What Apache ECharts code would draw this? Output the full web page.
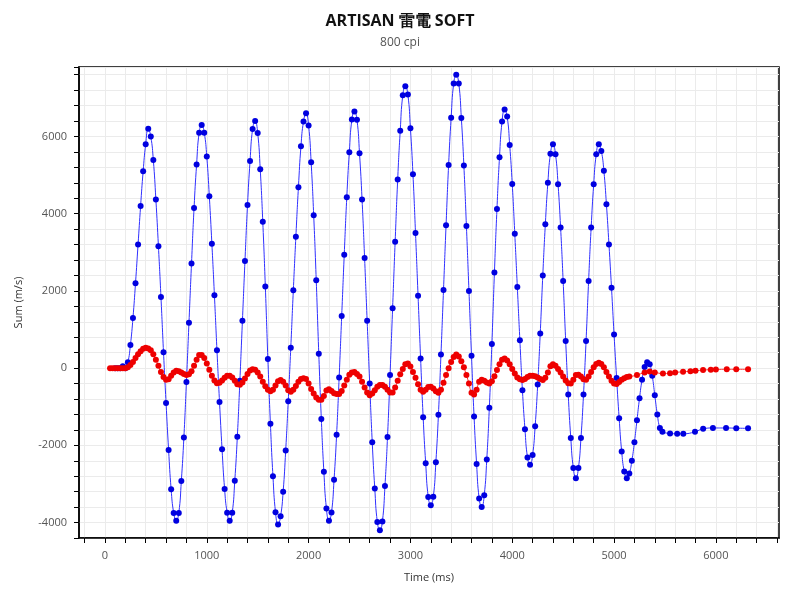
<!DOCTYPE html>
<html><head><meta charset="utf-8">
<script src="https://cdn.jsdelivr.net/npm/echarts@6/dist/echarts.min.js"></script>
<style>html,body{margin:0;padding:0;background:#fff}#c{width:800px;height:600px}</style>
</head><body><div id="c"></div>
<script>
const titleText = 'ARTISAN 雷電 SOFT';
const subText = '800 cpi';
const xName = 'Time (ms)';
const yName = 'Sum (m/s)';
const xTickValues = [-200,0,200,400,600,800,1000,1200,1400,1600,1800,2000,2200,2400,2600,2800,3000,3200,3400,3600,3800,4000,4200,4400,4600,4800,5000,5200,5400,5600,5800,6000,6200,6400,6600];
const xLabelValues = [0,1000,2000,3000,4000,5000,6000];

const blue = [[100,0],[125,0],[150,0],[175,50],[200,0],[225,150],[250,600],[275,1300],[300,2200],[325,3200],[350,4200],[375,5100],[400,5800],[425,6200],
[450,6000],[475,5390],[500,4370],[525,3160],[550,1840],[575,410],[600,-900],[625,-2120],[650,-3140],[675,-3750],[700,-3950],
[725,-3750],[750,-2925],[775,-1800],[800,-360],[825,1175],[850,2710],[875,4150],[900,5275],[925,6100],[950,6300],
[975,6100],[1000,5480],[1025,4450],[1050,3225],[1075,1890],[1100,460],[1125,-875],[1150,-2100],[1175,-3130],[1200,-3745],[1225,-3950],
[1250,-3745],[1275,-2915],[1300,-1780],[1325,-330],[1350,1225],[1375,2775],[1400,4225],[1425,5365],[1450,6195],[1475,6400],
[1500,6090],[1525,5150],[1550,3790],[1575,2115],[1600,235],[1625,-1440],[1650,-2800],[1675,-3735],[1700,-4050],
[1725,-3835],[1750,-3200],[1775,-2135],[1800,-855],[1825,530],[1850,2020],[1875,3405],[1900,4685],[1925,5750],[1950,6390],[1975,6600],
[2000,6285],[2025,5330],[2050,3960],[2075,2275],[2100,375],[2125,-1315],[2150,-2685],[2175,-3635],[2200,-3950],
[2225,-3740],[2250,-2890],[2275,-1725],[2300,-240],[2325,1350],[2350,2940],[2375,4425],[2400,5590],[2425,6440],[2450,6650],
[2475,6435],[2500,5565],[2525,4370],[2550,2850],[2575,1225],[2600,-400],[2625,-1920],[2650,-3115],[2675,-3985],[2700,-4200],
[2725,-3970],[2750,-3050],[2775,-1785],[2800,-175],[2825,1550],[2850,3275],[2875,4885],[2900,6150],[2925,7070],[2950,7300],
[2975,7085],[3000,6215],[3025,5020],[3050,3500],[3075,1875],[3100,250],[3125,-1270],[3150,-2465],[3175,-3335],[3200,-3550],
[3225,-3330],[3250,-2435],[3275,-1210],[3300,350],[3325,2025],[3350,3700],[3375,5260],[3400,6485],[3425,7375],[3450,7600],
[3475,7375],[3500,6480],[3525,5250],[3550,3680],[3575,2000],[3600,320],[3625,-1250],[3650,-2480],[3675,-3375],[3700,-3600],
[3725,-3290],[3750,-2365],[3775,-1025],[3800,625],[3825,2475],[3850,4125],[3875,5465],[3900,6390],[3925,6700],
[3950,6515],[3975,5780],[4000,4770],[4025,3480],[4050,2100],[4075,720],[4100,-570],[4125,-1580],[4150,-2315],[4175,-2500],
[4200,-2250],[4225,-1505],[4250,-425],[4275,900],[4300,2400],[4325,3725],[4350,4805],[4375,5550],[4400,5800],
[4425,5540],[4450,4760],[4475,3640],[4500,2255],[4525,700],[4550,-685],[4575,-1810],[4600,-2590],[4625,-2850],
[4650,-2590],[4675,-1810],[4700,-685],[4725,700],[4750,2255],[4775,3640],[4800,4760],[4825,5540],[4850,5800],
[4875,5625],[4900,5110],[4925,4245],[4950,3205],[4975,2080],[5000,870],[5025,-255],[5050,-1295],[5075,-2160],[5100,-2675],[5125,-2850],
[5150,-2730],[5175,-2400],[5200,-1920],[5225,-1350],[5250,-780],[5275,-300],[5300,30],[5325,150],
[5350,100],[5375,-200],[5400,-700],[5425,-1200],[5450,-1550],[5475,-1650],
[5550,-1690],[5620,-1700],[5680,-1700],[5795,-1650],[5875,-1570],[5971,-1550],[6100,-1550],[6200,-1555],[6316,-1560]];

const red = [[50,0],[75,0],[100,0],[125,0],[150,0],[175,0],[200,0],[225,20],[250,80],[275,160],[300,260],[325,360],[350,440],[375,500],[400,530],[425,510],[450,460],[475,360],[500,220],[525,60],[550,-100],[575,-230],[600,-300],[625,-290],[650,-200],[675,-110],[700,-70],[725,-80],[750,-110],[775,-150],[800,-180],[825,-160],[850,-80],[875,60],[900,220],[925,340],[950,340],[975,260],[1000,120],[1025,-40],[1050,-200],[1075,-320],[1100,-390],[1125,-380],[1150,-320],[1175,-250],[1200,-200],[1225,-200],[1250,-240],[1275,-330],[1300,-420],[1325,-430],[1350,-370],[1375,-270],[1400,-150],[1425,-60],[1450,-30],[1475,-40],[1500,-110],[1525,-220],[1550,-350],[1575,-470],[1600,-560],[1625,-600],[1650,-560],[1675,-450],[1700,-340],[1725,-310],[1750,-350],[1775,-450],[1800,-570],[1825,-610],[1850,-560],[1875,-460],[1900,-350],[1925,-280],[1950,-260],[1975,-280],[2000,-400],[2025,-540],[2050,-660],[2075,-760],[2100,-820],[2125,-820],[2150,-720],[2175,-580],[2200,-550],[2225,-590],[2250,-650],[2275,-670],[2300,-670],[2325,-590],[2350,-450],[2375,-300],[2400,-170],[2425,-110],[2450,-100],[2475,-150],[2500,-220],[2525,-350],[2550,-500],[2575,-630],[2600,-700],[2625,-660],[2650,-570],[2675,-480],[2700,-440],[2725,-440],[2750,-480],[2775,-560],[2800,-630],[2825,-630],[2850,-500],[2875,-330],[2900,-160],[2925,-20],[2950,100],[2975,120],[3000,40],[3025,-100],[3050,-250],[3075,-420],[3100,-560],[3125,-610],[3150,-560],[3175,-490],[3200,-480],[3225,-530],[3250,-600],[3275,-640],[3300,-560],[3325,-380],[3350,-180],[3375,0],[3400,160],[3425,290],[3450,350],[3475,300],[3500,180],[3525,20],[3550,-180],[3575,-400],[3600,-640],[3625,-680],[3650,-560],[3675,-350],[3700,-300],[3725,-330],[3750,-370],[3775,-400],[3800,-340],[3825,-210],[3850,-50],[3875,100],[3900,220],[3925,250],[3950,200],[3975,100],[4000,-20],[4025,-140],[4050,-240],[4075,-290],[4100,-310],[4125,-280],[4150,-230],[4175,-200],[4200,-200],[4225,-210],[4250,-240],[4275,-280],[4300,-310],[4325,-250],[4350,-110],[4375,50],[4400,100],[4425,60],[4450,-20],[4475,-110],[4500,-220],[4525,-320],[4550,-390],[4575,-400],[4600,-300],[4625,-180],[4650,-170],[4675,-220],[4700,-290],[4725,-300],[4750,-220],[4775,-100],[4800,20],[4825,110],[4850,140],[4875,110],[4900,20],[4925,-100],[4950,-220],[4975,-330],[5000,-400],[5025,-410],[5050,-360],[5075,-300],[5100,-260],[5125,-230],[5150,-220],
[5225,-180],[5300,-110],[5350,-90],[5400,-110],[5480,-140],[5550,-130],[5600,-110],[5678,-95],[5750,-80],[5800,-70],[5874,-50],[5950,-40],[6000,-35],[6107,-30],[6200,-30],[6316,-30]];

const chart = echarts.init(document.getElementById('c'));
const font = 'Open Sans';
chart.setOption({
  animation:false,
  textStyle:{fontFamily:font},
  title:{text:titleText,subtext:subText,left:'center',top:8,itemGap:8,
    textStyle:{fontSize:16,fontWeight:'bold',color:'#111',fontFamily:font},
    subtextStyle:{fontSize:12,color:'#555',fontFamily:font}},
  grid:{left:79,right:21,top:67,bottom:62,show:true,borderColor:'#000',borderWidth:1.5,containLabel:false},
  xAxis:{type:'value',min:-255,max:6620,name:xName,nameLocation:'middle',nameGap:34,
    nameTextStyle:{fontSize:11,color:'#333'},
    axisLine:{show:true,onZero:false,lineStyle:{color:'#000',width:1.5}},
    axisTick:{show:true,customValues:xTickValues,length:5,lineStyle:{color:'#000'}},
    axisLabel:{customValues:xLabelValues,fontSize:11,color:'#555',margin:12,formatter:v=>String(v)},
    splitLine:{show:true,lineStyle:{color:'#ebebeb'}}},
  yAxis:{type:'value',min:-4400,max:7800,interval:400,name:yName,nameLocation:'middle',nameGap:55,
    nameTextStyle:{fontSize:11,color:'#333'},
    axisLine:{show:true,onZero:false,lineStyle:{color:'#000',width:1.5}},
    axisTick:{show:true,length:5,lineStyle:{color:'#000'}},
    axisLabel:{fontSize:11,color:'#555',margin:12,formatter:v=>(v%2000===0?String(v):'')},
    splitLine:{show:true,lineStyle:{color:'#ebebeb'}}},
  series:[
    {type:'line',data:blue,smooth:true,symbol:'circle',symbolSize:6,showSymbol:true,
      lineStyle:{color:'#3030ff',width:1},itemStyle:{color:'#0000e0'}},
    {type:'line',data:red,smooth:true,symbol:'circle',symbolSize:6,showSymbol:true,
      lineStyle:{color:'#ff3030',width:1},itemStyle:{color:'#ee0000'}}
  ]
});
</script></body></html>
